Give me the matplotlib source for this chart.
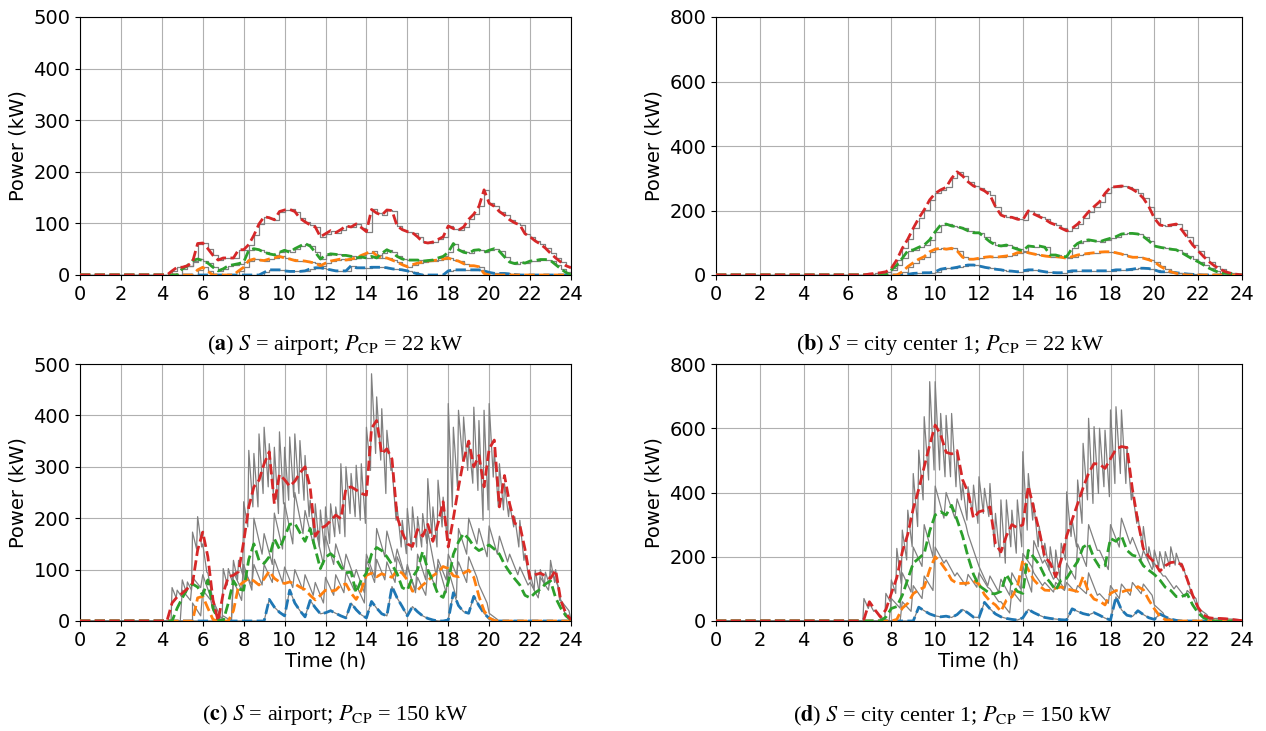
import numpy as np
import matplotlib
matplotlib.use("Agg")
import matplotlib.pyplot as plt

plt.rcParams['font.family'] = ['DejaVu Sans']
plt.rcParams['mathtext.fontset'] = 'stix'

STEP = 0.25   # quarter-hour grid for the dashed curves and the total gray curve
HALF = 0.5    # half-hour grid for the other gray curves

X_TICKS = list(range(0, 25, 2))
Y_TICKS_AIRPORT = [0, 100, 200, 300, 400, 500]
Y_TICKS_CITY = [0, 200, 400, 600, 800]

# ---------------- panel (a): airport, 22 kW ----------------
A_RED_START = 4.25
A_RED = [0, 8, 15, 15, 18, 25, 61, 62, 51, 38, 29, 33, 33, 33, 49, 49, 59, 77, 99, 113,
         111, 107, 123, 126, 127, 123, 110, 103, 97, 93, 74, 80, 86, 82, 88, 95, 93, 99, 92, 84,
         127, 120, 116, 126, 125, 95, 88, 84, 82, 74, 64, 62, 64, 69, 74, 95, 90, 87, 93, 108,
         118, 133, 165, 139, 133, 123, 116, 107, 101, 97, 80, 74, 66, 60, 52, 42, 33, 25, 18, 14]
A_GREEN_START = 4.75
A_GREEN = [0, 12, 18, 28, 31, 28, 23, 15, 8, 12, 18, 20, 22, 25, 48, 51, 49, 44, 41, 39,
           44, 48, 44, 51, 56, 61, 56, 44, 31, 38, 41, 40, 38, 38, 36, 33, 35, 33, 36, 33,
           42, 49, 44, 36, 31, 29, 29, 29, 27, 28, 29, 33, 36, 44, 61, 49, 44, 42, 48, 49,
           44, 48, 51, 46, 35, 25, 22, 25, 23, 27, 28, 30, 30, 28, 20, 12, 5, 0]
A_ORANGE_START = 5.5
A_ORANGE = [0, 10, 15, 7, 0, 0, 0, 0, 0, 8, 15, 28, 31, 29, 28, 31, 33, 36, 33, 31,
            28, 28, 27, 25, 23, 18, 23, 27, 29, 31, 29, 31, 33, 38, 42, 46, 38, 33, 33, 29,
            25, 20, 16, 20, 23, 25, 27, 28, 29, 31, 33, 29, 27, 22, 18, 18, 16, 3, 0]
A_BLUE_START = 8.75
A_BLUE = [0, 5, 10, 10, 10, 8, 7, 7, 7, 8, 12, 14, 14, 12, 10, 8, 8, 8, 18, 14,
          14, 14, 15, 15, 15, 14, 12, 11, 10, 8, 5, 2, 0, 0, 0, 0, 0, 8, 10, 10,
          10, 10, 10, 10, 8, 5, 3, 3, 3, 2, 1, 0]

# ---------------- panel (b): city center 1, 22 kW ----------------
B_RED_START = 6.75
B_RED = [0, 3, 5, 7, 10, 21, 47, 83, 111, 145, 176, 202, 233, 253, 264, 272, 300, 320, 307, 289,
         276, 269, 261, 248, 212, 186, 179, 179, 173, 171, 199, 189, 181, 173, 162, 155, 145, 137, 145, 158,
         176, 196, 212, 227, 253, 272, 274, 276, 274, 266, 255, 238, 212, 176, 155, 152, 155, 158, 140, 117,
         93, 75, 57, 41, 28, 18, 10, 5, 2, 0]
B_GREEN_START = 7.75
B_GREEN = [0, 16, 31, 52, 75, 78, 86, 93, 109, 134, 155, 158, 152, 150, 145, 137, 131, 131, 117, 103,
           93, 90, 93, 86, 80, 75, 90, 88, 90, 86, 62, 62, 57, 57, 83, 98, 106, 109, 106, 103,
           109, 114, 119, 127, 129, 129, 127, 119, 106, 90, 86, 83, 80, 78, 69, 59, 49, 41, 31, 21,
           13, 7, 5, 4, 2, 0]
B_ORANGE_START = 8.25
B_ORANGE = [0, 10, 26, 38, 49, 57, 72, 80, 83, 80, 83, 75, 55, 49, 49, 52, 55, 57, 55, 57,
            59, 62, 69, 72, 69, 65, 62, 59, 57, 57, 55, 52, 57, 62, 65, 67, 69, 71, 72, 72,
            69, 65, 59, 55, 55, 52, 47, 41, 28, 18, 10, 5, 2, 0]
B_BLUE_START = 8.5
B_BLUE = [0, 2, 5, 6, 7, 7, 10, 18, 21, 21, 24, 28, 31, 31, 28, 24, 21, 18, 16, 13,
          12, 10, 13, 16, 16, 13, 10, 8, 7, 7, 10, 13, 13, 13, 13, 13, 13, 13, 13, 16,
          16, 16, 18, 21, 21, 20, 16, 10, 10, 9, 7, 5, 3, 2, 1, 0]

# ---------------- panel (c): airport, 150 kW ----------------
C_RED_START = 4.25
C_RED = [0, 35, 47, 54, 63, 73, 138, 173, 125, 41, 0, 54, 86, 89, 96, 154, 222, 261, 274, 306,
         329, 228, 285, 275, 262, 272, 288, 300, 260, 165, 180, 185, 195, 206, 199, 258, 261, 255, 248, 245,
         375, 390, 325, 335, 315, 203, 172, 150, 145, 178, 165, 188, 155, 190, 232, 144, 200, 260, 313, 350,
         300, 322, 261, 335, 352, 222, 283, 228, 190, 186, 140, 83, 90, 93, 88, 83, 99, 40, 15, 2]
C_GREEN_START = 4.5
C_GREEN = [0, 25, 45, 63, 72, 66, 50, 80, 25, 3, 0, 35, 78, 62, 60, 120, 150, 118, 112, 125,
           160, 140, 164, 188, 190, 172, 155, 180, 140, 102, 124, 131, 122, 105, 94, 95, 55, 80, 93, 130,
           143, 137, 125, 110, 92, 65, 60, 85, 100, 135, 100, 78, 52, 46, 75, 130, 154, 170, 160, 145,
           137, 142, 148, 140, 130, 110, 95, 82, 70, 50, 45, 55, 62, 72, 78, 45, 25, 10, 2]
C_ORANGE_START = 5.5
C_ORANGE = [0, 45, 48, 25, 3, 0, 0, 0, 20, 68, 76, 83, 78, 70, 82, 97, 83, 76, 73, 76,
            72, 66, 61, 50, 41, 50, 60, 58, 60, 70, 72, 54, 42, 60, 89, 93, 86, 92, 88, 85,
            99, 93, 80, 58, 60, 70, 78, 88, 95, 106, 102, 88, 86, 93, 99, 85, 48, 20, 6, 1, 0]
C_BLUE_START = 9.0
C_BLUE = [0, 42, 27, 17, 10, 60, 35, 20, 8, 40, 26, 14, 16, 20, 15, 10, 6, 35, 22, 12,
          6, 38, 25, 14, 10, 67, 45, 28, 10, 28, 18, 10, 5, 2, 0, 0, 2, 55, 30, 18,
          15, 48, 30, 15, 5, 1, 0]
# measured (gray) curves: value right after each step and just before the next one
C_TOTAL_PEAK = [0, 65, 60, 80, 76, 173, 203, 150, 93, 40, 5, 102, 102, 118, 118, 232, 332, 326, 364, 377,
                345, 338, 368, 338, 358, 364, 351, 322, 235, 228, 216, 222, 228, 222, 306, 300, 287, 303, 306, 377,
                481, 436, 413, 371, 300, 222, 196, 219, 222, 203, 209, 277, 222, 274, 241, 423, 377, 410, 397, 351,
                416, 390, 410, 423, 332, 306, 267, 228, 203, 196, 131, 93, 99, 100, 95, 118, 100, 40, 15, 2]
C_TOTAL_TROUGH = [0, 45, 48, 55, 60, 140, 144, 95, 50, 10, 0, 70, 75, 80, 90, 183, 222, 222, 248, 261,
                  248, 209, 228, 235, 241, 248, 235, 203, 164, 144, 138, 151, 164, 170, 164, 209, 203, 196, 190, 293,
                  326, 313, 248, 293, 196, 144, 131, 138, 144, 144, 151, 164, 144, 183, 157, 222, 261, 313, 293, 268,
                  254, 196, 216, 280, 222, 216, 203, 183, 144, 118, 80, 60, 54, 70, 70, 75, 40, 15, 3, 0]
C_GREEN_GRAY_START = 4.5
C_GREEN_PEAK = [0, 60, 85, 90, 40, 10, 95, 110, 200, 170, 210, 230, 250, 215, 180, 165, 150, 130, 100, 130,
                180, 175, 140, 110, 130, 175, 110, 100, 180, 200, 180, 185, 165, 130, 105, 75, 85, 100, 40, 2]
C_GREEN_TROUGH = [0, 40, 65, 45, 5, 0, 60, 60, 130, 110, 140, 150, 170, 150, 110, 110, 100, 85, 55, 85,
                  125, 115, 85, 55, 80, 90, 55, 45, 130, 150, 125, 130, 115, 90, 70, 45, 60, 65, 20, 0]
C_ORANGE_GRAY_START = 5.5
C_ORANGE_PEAK = [35, 60, 20, 0, 80, 100, 110, 110, 120, 105, 100, 90, 75, 85, 90, 95, 70, 120, 120, 115,
                 125, 105, 85, 100, 120, 130, 115, 125, 70, 15, 0]
C_ORANGE_TROUGH = [10, 40, 0, 0, 40, 70, 70, 75, 75, 65, 60, 50, 35, 50, 55, 60, 35, 75, 80, 75,
                   85, 60, 50, 65, 80, 90, 75, 85, 35, 3, 0]

# ---------------- panel (d): city center 1, 150 kW ----------------
D_RED_START = 6.5
D_RED = [0, 5, 60, 35, 13, 35, 86, 135, 215, 270, 350, 410, 480, 548, 610, 580, 525, 520, 530, 440,
         400, 320, 340, 345, 355, 240, 215, 265, 300, 290, 300, 420, 350, 280, 200, 180, 138, 190, 265, 315,
         365, 415, 460, 490, 488, 475, 505, 535, 543, 540, 410, 310, 225, 200, 183, 155, 172, 182, 184, 175,
         130, 80, 42, 18, 10, 8, 8, 7, 5, 3, 1]
D_GREEN_START = 7.5
D_GREEN = [0, 12, 39, 45, 80, 130, 180, 195, 210, 280, 330, 340, 330, 360, 315, 265, 200, 145, 110, 98,
           85, 85, 92, 145, 115, 92, 86, 220, 198, 175, 140, 120, 96, 128, 133, 160, 185, 230, 240, 195,
           168, 172, 257, 248, 265, 220, 205, 200, 172, 158, 145, 128, 105, 95, 76, 76, 84, 50, 25, 10, 3, 0]
D_ORANGE_START = 8.0
D_ORANGE = [0, 5, 40, 55, 85, 97, 105, 160, 200, 182, 158, 128, 117, 117, 118, 125, 115, 82, 62, 50,
            30, 65, 75, 105, 190, 160, 128, 110, 96, 95, 102, 106, 100, 96, 92, 138, 90, 68, 62, 50,
            86, 95, 90, 96, 96, 107, 97, 65, 38, 15, 4, 1, 0]
D_BLUE_START = 9.0
D_BLUE = [0, 43, 32, 22, 16, 13, 15, 11, 20, 36, 25, 12, 11, 58, 38, 22, 13, 8, 5, 3,
          10, 36, 26, 18, 11, 8, 6, 4, 3, 38, 30, 23, 19, 26, 18, 9, 3, 75, 35, 18,
          14, 32, 20, 10, 5, 22, 13, 6, 2, 0]
D_TOTAL_PEAK = [0, 70, 55, 34, 13, 86, 128, 226, 283, 345, 459, 532, 636, 745, 745, 646, 640, 646, 532, 428,
                418, 423, 449, 413, 428, 335, 377, 377, 345, 377, 527, 459, 366, 294, 242, 231, 221, 242, 402, 314,
                439, 553, 631, 605, 600, 594, 657, 667, 657, 543, 402, 325, 294, 231, 221, 216, 216, 231, 211, 180,
                128, 76, 34, 13, 8, 8, 8, 7, 6, 5, 4]
D_TOTAL_TROUGH = [0, 39, 30, 15, 5, 60, 86, 117, 190, 231, 294, 377, 439, 470, 470, 449, 449, 418, 377, 314,
                  335, 304, 335, 325, 231, 200, 180, 231, 211, 231, 283, 314, 231, 200, 159, 138, 128, 190, 263, 231,
                  304, 377, 366, 397, 418, 387, 428, 459, 428, 377, 304, 231, 190, 169, 169, 164, 169, 174, 169, 138,
                  86, 45, 19, 8, 8, 8, 7, 6, 5, 4, 3]
D_GREEN_GRAY_START = 7.5
D_GREEN_PEAK = [10, 70, 150, 230, 300, 420, 400, 380, 270, 170, 140, 130, 150, 170, 250, 190, 140, 180, 240, 300,
                220, 300, 320, 260, 220, 180, 140, 110, 95, 40, 5]
D_GREEN_TROUGH = [0, 40, 90, 170, 200, 320, 320, 300, 190, 110, 90, 80, 100, 90, 180, 130, 100, 130, 170, 220,
                  160, 230, 240, 190, 160, 140, 100, 75, 70, 20, 0]
D_ORANGE_GRAY_START = 8.0
D_ORANGE_PEAK = [0, 60, 110, 140, 230, 190, 150, 145, 150, 100, 60, 95, 210, 150, 120, 120, 120, 110, 150, 85,
                 110, 115, 120, 115, 50, 8, 0]
D_ORANGE_TROUGH = [0, 30, 70, 95, 180, 140, 110, 105, 105, 60, 25, 60, 170, 110, 90, 95, 90, 85, 80, 55,
                   70, 80, 85, 80, 25, 2, 0]

CAPTIONS = [r'($\mathbf{a}$) $S$ = airport; $P_{\mathrm{CP}}$ = 22 kW',
            r'($\mathbf{b}$) $S$ = city center 1; $P_{\mathrm{CP}}$ = 22 kW',
            r'($\mathbf{c}$) $S$ = airport; $P_{\mathrm{CP}}$ = 150 kW',
            r'($\mathbf{d}$) $S$ = city center 1; $P_{\mathrm{CP}}$ = 150 kW']

COLORS = {'blue': '#1f77b4', 'orange': '#ff7f0e', 'green': '#2ca02c', 'red': '#d62728'}
GRAY = '#808080'


def series(start, vals, step=STEP):
    t = start + step * np.arange(len(vals))
    v = np.asarray(vals, dtype=float)
    keep = t <= 24 + 1e-9
    t = np.concatenate([[0.0, start], t[keep]])
    v = np.concatenate([[0.0, 0.0], v[keep]])
    if t[-1] < 24:
        t = np.append(t, 24.0)
        v = np.append(v, 0.0)
    return t, v


def sawtooth(start, peaks, troughs, step):
    ts, vs = [0.0, start], [0.0, 0.0]
    for k, (p, q) in enumerate(zip(peaks, troughs)):
        t0 = start + k * step
        ts += [t0, t0 + 0.8 * step]
        vs += [p, q]
    if ts[-1] < 24:
        ts.append(24.0)
        vs.append(0.0)
    return np.array(ts), np.array(vs)


fig = plt.figure(figsize=(12.66, 7.31), dpi=100)
W, H = 1266.0, 731.0
boxes = [(80, 17, 571, 275), (716, 17, 1242, 275), (80, 364, 571, 621), (716, 364, 1242, 621)]
axes = []
for (x0, y0, x1, y1) in boxes:
    axes.append(fig.add_axes([x0 / W, 1 - y1 / H, (x1 - x0) / W, (y1 - y0) / H]))

panels = [
    dict(ymax=500, yt=Y_TICKS_AIRPORT, step_gray=True,
         s=[('blue', A_BLUE_START, A_BLUE), ('orange', A_ORANGE_START, A_ORANGE),
            ('green', A_GREEN_START, A_GREEN), ('red', A_RED_START, A_RED)]),
    dict(ymax=800, yt=Y_TICKS_CITY, step_gray=True,
         s=[('blue', B_BLUE_START, B_BLUE), ('orange', B_ORANGE_START, B_ORANGE),
            ('green', B_GREEN_START, B_GREEN), ('red', B_RED_START, B_RED)]),
    dict(ymax=500, yt=Y_TICKS_AIRPORT, step_gray=False,
         s=[('blue', C_BLUE_START, C_BLUE), ('orange', C_ORANGE_START, C_ORANGE),
            ('green', C_GREEN_START, C_GREEN), ('red', C_RED_START, C_RED)],
         saw=[(C_RED_START, C_TOTAL_PEAK, C_TOTAL_TROUGH, STEP),
              (C_GREEN_GRAY_START, C_GREEN_PEAK, C_GREEN_TROUGH, HALF),
              (C_ORANGE_GRAY_START, C_ORANGE_PEAK, C_ORANGE_TROUGH, HALF)]),
    dict(ymax=800, yt=Y_TICKS_CITY, step_gray=False,
         s=[('blue', D_BLUE_START, D_BLUE), ('orange', D_ORANGE_START, D_ORANGE),
            ('green', D_GREEN_START, D_GREEN), ('red', D_RED_START, D_RED)],
         saw=[(D_RED_START, D_TOTAL_PEAK, D_TOTAL_TROUGH, STEP),
              (D_GREEN_GRAY_START, D_GREEN_PEAK, D_GREEN_TROUGH, HALF),
              (D_ORANGE_GRAY_START, D_ORANGE_PEAK, D_ORANGE_TROUGH, HALF)]),
]

for i, (ax, p) in enumerate(zip(axes, panels)):
    # gray measured curves
    if p['step_gray']:
        for name, st, vals in p['s']:
            t, v = series(st, vals)
            ax.plot(t, v, color=GRAY, lw=0.9, drawstyle='steps-post', zorder=2)
    else:
        for st, pk, tr, stp in p['saw']:
            t, v = sawtooth(st, pk, tr, stp)
            ax.plot(t, v, color=GRAY, lw=0.9, zorder=2)
        name, st, vals = p['s'][0]
        t, v = series(st, vals)
        ax.plot(t, v, color=GRAY, lw=0.9, zorder=2)
    # dashed predicted curves
    for name, st, vals in p['s']:
        t, v = series(st, vals)
        ax.plot(t, v, color=COLORS[name], lw=2.0, ls='--', zorder=3)

    ax.set_xlim(0, 24)
    ax.set_ylim(0, p['ymax'])
    ax.set_xticks(X_TICKS)
    ax.set_yticks(p['yt'])
    ax.grid(True, color='#b0b0b0', lw=0.8)
    ax.set_axisbelow(True)
    ax.tick_params(labelsize=14)
    ax.set_ylabel('Power (kW)', fontsize=14)
    if i >= 2:
        ax.set_xlabel('Time (h)', fontsize=14, labelpad=1)

cap_pos = [(335, 345), (950, 345), (335, 715), (953, 715)]
for (cx, cy), txt in zip(cap_pos, CAPTIONS):
    fig.text(cx / W, 1 - cy / H, txt, ha='center', va='center', fontsize=16,
             family='Liberation Serif')

fig.savefig('out.png', dpi=100)
